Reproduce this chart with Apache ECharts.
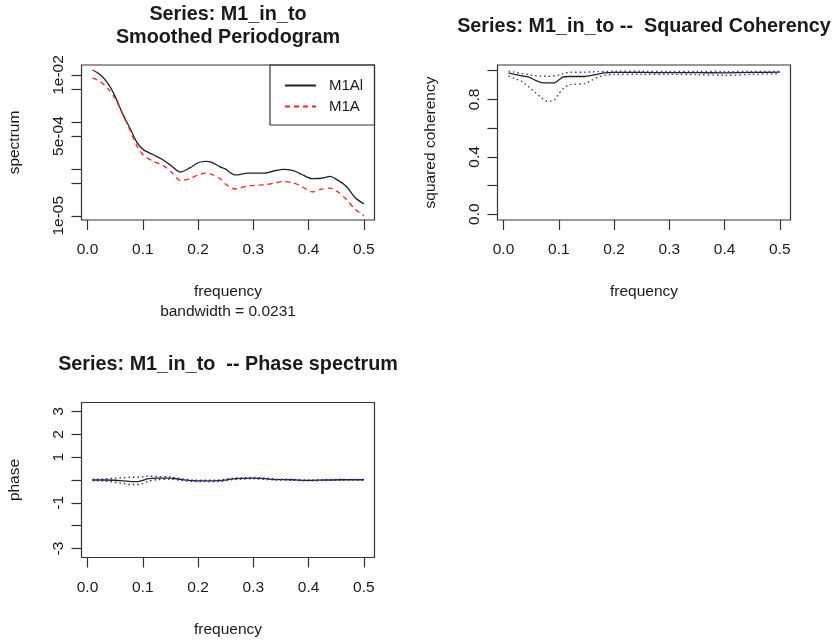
<!DOCTYPE html>
<html>
<head>
<meta charset="utf-8">
<script src="https://cdn.jsdelivr.net/npm/echarts@6/dist/echarts.min.js"></script>
<style>
html,body{margin:0;padding:0;background:#fff;}
#chart{width:836px;height:642px;}
</style>
</head>
<body>
<div id="chart"></div>
<script>
// ---------- Data ----------
// Smoothed periodogram
const freqSpec = [0.009, 0.022, 0.037, 0.05, 0.062, 0.077, 0.089, 0.101, 0.119, 0.137, 0.152, 0.168, 0.185, 0.2, 0.213, 0.225, 0.24, 0.249, 0.267, 0.291, 0.321, 0.339, 0.354, 0.372, 0.388, 0.406, 0.424, 0.439, 0.454, 0.469, 0.484, 0.5];
const specM1Al = [1.28e-2, 1.035e-2, 6.61e-3, 3.47e-3, 1.62e-3, 7.24e-4, 3.72e-4, 2.57e-4, 2.00e-4, 1.55e-4, 1.15e-4, 8.51e-5, 1.05e-4, 1.35e-4, 1.45e-4, 1.38e-4, 1.10e-4, 1.00e-4, 7.41e-5, 8.13e-5, 8.13e-5, 9.12e-5, 9.77e-5, 9.12e-5, 7.59e-5, 6.17e-5, 6.31e-5, 6.92e-5, 5.62e-5, 4.17e-5, 2.45e-5, 1.78e-5];
const specM1A = [8.71e-3, 7.41e-3, 5.13e-3, 3.16e-3, 1.62e-3, 6.61e-4, 3.16e-4, 1.95e-4, 1.45e-4, 1.17e-4, 8.51e-5, 5.62e-5, 6.17e-5, 7.41e-5, 8.13e-5, 7.59e-5, 6.17e-5, 4.79e-5, 3.72e-5, 4.37e-5, 4.57e-5, 5.01e-5, 5.37e-5, 5.01e-5, 4.17e-5, 3.24e-5, 3.72e-5, 3.89e-5, 3.16e-5, 2.19e-5, 1.38e-5, 1.00e-5];
const specTickValues = [1e-5, 5e-5, 1e-4, 5e-4, 1e-3, 5e-3, 1e-2];
const specLabelValues = [1e-5, 5e-4, 1e-2];
const specLabelText = ['1e-05', '5e-04', '1e-02'];

// Frequency axis ticks
const freqTicks = [0, 0.1, 0.2, 0.3, 0.4, 0.5];
const freqTickLabels = ['0.0', '0.1', '0.2', '0.3', '0.4', '0.5'];

// Squared coherency
const freqCoh = [0.009, 0.02, 0.033, 0.045, 0.057, 0.069, 0.08, 0.093, 0.1, 0.108, 0.12, 0.147, 0.16, 0.171, 0.183, 0.2, 0.25, 0.3, 0.35, 0.4, 0.45, 0.5];
const cohEst   = [0.985, 0.975, 0.965, 0.957, 0.935, 0.917, 0.915, 0.917, 0.935, 0.957, 0.96, 0.96, 0.968, 0.977, 0.985, 0.988, 0.988, 0.987, 0.987, 0.985, 0.988, 0.99];
const cohUpper = [0.997, 0.99, 0.98, 0.973, 0.966, 0.962, 0.961, 0.965, 0.97, 0.98, 0.99, 0.99, 0.992, 0.994, 0.995, 0.996, 0.996, 0.995, 0.995, 0.994, 0.995, 0.996];
const cohLower = [0.964, 0.945, 0.926, 0.89, 0.85, 0.81, 0.787, 0.80, 0.84, 0.875, 0.903, 0.91, 0.935, 0.955, 0.968, 0.975, 0.976, 0.975, 0.973, 0.968, 0.975, 0.98];
const cohTicks = [0, 0.2, 0.4, 0.6, 0.8, 1.0];
const cohLabelValues = [0, 0.4, 0.8];
const cohLabelText = ['0.0', '0.4', '0.8'];

// Phase spectrum
const freqPhase = [0.009, 0.03, 0.05, 0.065, 0.08, 0.09, 0.1, 0.11, 0.125, 0.15, 0.17, 0.19, 0.21, 0.24, 0.26, 0.28, 0.3, 0.32, 0.34, 0.37, 0.4, 0.43, 0.46, 0.5];
const phaseEst   = [0, 0, -0.01, -0.04, -0.07, -0.07, -0.02, 0.06, 0.08, 0.08, 0.02, -0.03, -0.04, -0.03, 0.04, 0.07, 0.08, 0.06, 0.02, 0.01, -0.02, 0.0, 0.01, 0.01];
const phaseUpper = [0.03, 0.05, 0.08, 0.10, 0.12, 0.12, 0.14, 0.17, 0.15, 0.13, 0.06, 0.0, -0.01, 0.0, 0.07, 0.10, 0.11, 0.09, 0.04, 0.03, 0.0, 0.02, 0.03, 0.02];
const phaseLower = [-0.03, -0.05, -0.10, -0.15, -0.20, -0.20, -0.16, -0.05, 0.01, 0.03, -0.02, -0.06, -0.07, -0.06, 0.01, 0.04, 0.05, 0.03, 0.0, -0.01, -0.04, -0.02, -0.01, 0.0];
const phaseTicks = [-3, -2, -1, 0, 1, 2, 3];
const phaseLabelValues = [-3, -1, 1, 2, 3];
const phaseLabelText = ['-3', '-1', '1', '2', '3'];

// ---------- Chart ----------
const FONT = '"Liberation Sans", Arial, sans-serif';
const TXT = '#1a1a1a';
const BOX = '#333';
const GL = 81.5, GW = 293, GH = 155;
const XMIN = -0.0109, XMAX = 0.5192;

const pairs = (xs, ys, f) => xs.map((x, i) => [x, f ? f(ys[i]) : ys[i]]);
const lookupLabel = (vals, texts, tr) => (v) => {
  for (let i = 0; i < vals.length; i++) {
    if (Math.abs((tr ? tr(vals[i]) : vals[i]) - v) < 1e-6) return texts[i];
  }
  return '';
};

function xAxisFor(gridIndex) {
  return {
    type: 'value', gridIndex, min: XMIN, max: XMAX, position: 'bottom',
    name: 'frequency', nameLocation: 'middle', nameGap: 63,
    nameTextStyle: { fontFamily: FONT, fontSize: 15.5, color: TXT, lineHeight: 18 },
    axisLine: { show: false, onZero: false },
    splitLine: { show: false },
    axisTick: { show: true, inside: false, length: 10, lineStyle: { color: BOX, width: 1.2 }, customValues: freqTicks },
    axisLabel: { fontFamily: FONT, fontSize: 15.5, color: TXT, margin: 22,
      customValues: freqTicks, formatter: lookupLabel(freqTicks, freqTickLabels) }
  };
}
function yAxisFor(gridIndex, name, min, max, ticks, labVals, labTexts, tr) {
  return {
    type: 'value', gridIndex, min, max, position: 'left',
    name, nameLocation: 'middle', nameGap: 58,
    nameTextStyle: { fontFamily: FONT, fontSize: 15.5, color: TXT, lineHeight: 18 },
    axisLine: { show: false, onZero: false },
    splitLine: { show: false },
    axisTick: { show: true, inside: false, length: 10, lineStyle: { color: BOX, width: 1.2 },
      customValues: tr ? ticks.map(tr) : ticks },
    axisLabel: { fontFamily: FONT, fontSize: 15.5, color: TXT, margin: 15, rotate: 90,
      customValues: tr ? labVals.map(tr) : labVals,
      formatter: lookupLabel(labVals, labTexts, tr) }
  };
}

const chart = echarts.init(document.getElementById('chart'), null, { renderer: 'canvas' });
const gridStyle = { show: true, borderColor: BOX, borderWidth: 1.2, backgroundColor: 'transparent' };

const option = {
  animation: false,
  backgroundColor: '#fff',
  grid: [
    Object.assign({ left: GL, top: 65, width: GW, height: GH }, gridStyle),
    Object.assign({ left: GL + 416, top: 65, width: GW, height: GH }, gridStyle),
    Object.assign({ left: GL, top: 402.5, width: GW, height: GH }, gridStyle)
  ],
  xAxis: [xAxisFor(0), xAxisFor(1), xAxisFor(2)],
  yAxis: [
    yAxisFor(0, 'spectrum', -5.09, -1.786, specTickValues, specLabelValues, specLabelText, Math.log10),
    yAxisFor(1, 'squared coherency', -0.04, 1.04, cohTicks, cohLabelValues, cohLabelText),
    yAxisFor(2, 'phase', -Math.PI * 1.08, Math.PI * 1.08, phaseTicks, phaseLabelValues, phaseLabelText)
  ],
  legend: {
    data: ['M1Al', 'M1A'],
    orient: 'vertical', left: 284, top: 78, padding: 0,
    itemWidth: 31, itemHeight: 14, itemGap: 6,
    itemStyle: { opacity: 0, borderWidth: 0 },
    textStyle: { fontFamily: FONT, fontSize: 15, color: TXT, padding: [0, 0, 0, 8] }
  },
  series: [
    { name: 'M1Al', type: 'line', xAxisIndex: 0, yAxisIndex: 0, symbol: 'none', showSymbol: false, smooth: 0.25,
      data: pairs(freqSpec, specM1Al, Math.log10),
      lineStyle: { color: '#222', width: 1.3, type: 'solid' }, itemStyle: { color: '#222' } },
    { name: 'M1A', type: 'line', xAxisIndex: 0, yAxisIndex: 0, symbol: 'none', showSymbol: false, smooth: 0.25,
      data: pairs(freqSpec, specM1A, Math.log10),
      lineStyle: { color: '#ff2020', width: 1.3, type: [5, 4] }, itemStyle: { color: '#ff2020' } },

    { type: 'line', xAxisIndex: 1, yAxisIndex: 1, symbol: 'none', smooth: 0.15,
      data: pairs(freqCoh, cohEst), lineStyle: { color: '#222', width: 1.3 } },
    { type: 'line', xAxisIndex: 1, yAxisIndex: 1, symbol: 'none', smooth: 0.3,
      data: pairs(freqCoh, cohUpper), lineStyle: { color: '#3535c8', width: 1.4, type: [1.5, 3] } },
    { type: 'line', xAxisIndex: 1, yAxisIndex: 1, symbol: 'none', smooth: 0.3,
      data: pairs(freqCoh, cohLower), lineStyle: { color: '#3535c8', width: 1.4, type: [1.5, 3] } },

    { type: 'line', xAxisIndex: 2, yAxisIndex: 2, symbol: 'none', smooth: 0.3,
      data: pairs(freqPhase, phaseEst), lineStyle: { color: '#222', width: 1.3 } },
    { type: 'line', xAxisIndex: 2, yAxisIndex: 2, symbol: 'none', smooth: 0.3,
      data: pairs(freqPhase, phaseUpper), lineStyle: { color: '#2a2ab0', width: 1.4, type: [1.5, 3] } },
    { type: 'line', xAxisIndex: 2, yAxisIndex: 2, symbol: 'none', smooth: 0.3,
      data: pairs(freqPhase, phaseLower), lineStyle: { color: '#2a2ab0', width: 1.4, type: [1.5, 3] } }
  ],
  graphic: [
    { type: 'rect', shape: { x: 270, y: 65, width: GL + GW - 270, height: 60 },
      style: { fill: 'none', stroke: BOX, lineWidth: 1.2 }, silent: true },
    { type: 'text', x: GL + GW / 2, y: 15, style: { text: 'Series: M1_in_to', textAlign: 'center', textVerticalAlign: 'middle',
      font: 'bold 19.8px ' + FONT, fill: TXT } },
    { type: 'text', x: GL + GW / 2, y: 38, style: { text: 'Smoothed Periodogram', textAlign: 'center', textVerticalAlign: 'middle',
      font: 'bold 19.8px ' + FONT, fill: TXT } },
    { type: 'text', x: GL + 416 + GW / 2, y: 27, style: { text: 'Series: M1_in_to --  Squared Coherency', textAlign: 'center', textVerticalAlign: 'middle',
      font: 'bold 19.8px ' + FONT, fill: TXT } },
    { type: 'text', x: GL + GW / 2, y: 365, style: { text: 'Series: M1_in_to  -- Phase spectrum', textAlign: 'center', textVerticalAlign: 'middle',
      font: 'bold 19.8px ' + FONT, fill: TXT } },
    { type: 'text', x: GL + GW / 2, y: 312, style: { text: 'bandwidth = 0.0231', textAlign: 'center', textVerticalAlign: 'middle',
      font: '15.5px ' + FONT, fill: TXT } }
  ]
};
chart.setOption(option);
</script>
</body>
</html>
